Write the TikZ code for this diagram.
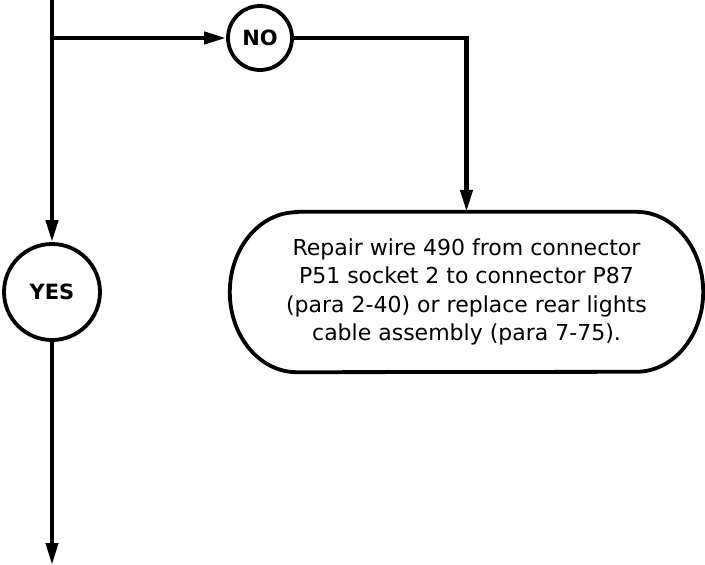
\documentclass[tikz,border=0pt]{standalone}
\usepackage{fontspec}
\setmainfont{DejaVu Sans}
\usetikzlibrary{arrows.meta, positioning, calc}

\begin{document}
\begin{tikzpicture}[
  x=1pt, y=1pt,
  >={Triangle[length=22pt, width=12pt]},
  flow/.style={line width=4.2pt},
  answer/.style={circle, draw, line width=3.8pt, font=\fontsize{21}{24}\selectfont\bfseries, inner sep=0pt},
]

\useasboundingbox (0,0) rectangle (705,-565);

% Decision answers
\coordinate (top) at (52,0);
\coordinate (split) at (52,-38);
\node[answer, minimum size=64pt] (no) at (260,-38) {NO};
\node[answer, minimum size=96pt] (yes) at (52,-292) {YES};
\coordinate (bottom) at (52,-565);

% Repair action
\node[align=center, minimum width=473pt, minimum height=160pt,
  font=\fontsize{22}{28.3}\selectfont] (repair) at (466.5,-292)
  {Repair wire 490 from connector\\
   P51 socket 2 to connector P87\\
   (para 2-40) or replace rear lights\\
   cable assembly (para 7-75).};
\draw[line width=3.8pt]
  ([xshift=67pt]repair.north west) -- ([xshift=-67pt]repair.north east)
  arc[start angle=90, end angle=-90, x radius=67pt, y radius=80pt]
  -- ([xshift=67pt]repair.south west)
  arc[start angle=270, end angle=90, x radius=67pt, y radius=80pt] -- cycle;

% Connectors
\draw[flow] (top) -- (split);
\draw[flow, ->] (split) -- (no);
\draw[flow, ->] (split) -- (yes);
\draw[flow, ->] (no) -| (repair.north);
\draw[flow, ->] (yes) -- (bottom);

\end{tikzpicture}
\end{document}
